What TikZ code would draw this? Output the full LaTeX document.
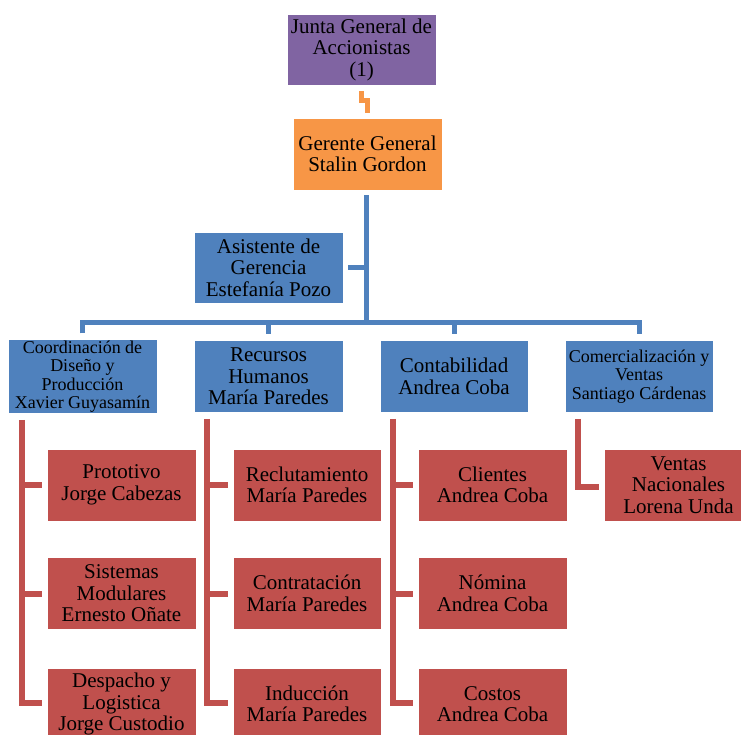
\documentclass[tikz,border=0pt]{standalone}
\usepackage{fontspec}
\setmainfont{Liberation Serif}
\usetikzlibrary{calc}
\definecolor{cpurple}{HTML}{8064A2}
\definecolor{corange}{HTML}{F79646}
\definecolor{cblue}{HTML}{4F81BD}
\definecolor{cred}{HTML}{C0504D}
\tikzset{
  box/.style={rectangle, draw=white, line width=0.6pt, minimum width=149pt,
    minimum height=72pt, inner sep=1pt, align=center, text=black,
    font=\fontsize{21}{21.5}\selectfont},
  smalltext/.style={font=\fontsize{18}{18.5}\selectfont},
  purplebox/.style={box, fill=cpurple},
  orangebox/.style={box, fill=corange},
  bluebox/.style={box, fill=cblue},
  redbox/.style={box, fill=cred},
  oline/.style={draw=corange, line width=4.5pt},
  bline/.style={draw=cblue, line width=5pt},
  rline/.style={draw=cred, line width=6pt},
}
\begin{document}
\begin{tikzpicture}[x=1pt, y=-1pt]
\useasboundingbox (0,0) rectangle (741,735);
\clip (0,0) rectangle (741,735);
\fill[white] (0,0) rectangle (741,735);

% top of the chart
\node[purplebox, minimum height=71pt] (junta) at (361.5,49.5) {Junta General de\\Accionistas\\(1)};
\node[orangebox] (gerente) at (367.5,154) {Gerente General\\Stalin Gordon};
\node[bluebox, minimum height=71pt] (asist) at (268.5,267.5) {Asistente de\\Gerencia\\Estefanía Pozo};

% departments
\node[bluebox, smalltext] (coord) at (82.5,376.5) {Coordinación de\\Diseño y\\Producción\\Xavier Guyasamín};
\node[bluebox] (rrhh) at (268.5,376.5) {Recursos\\Humanos\\María Paredes};
\node[bluebox, minimum width=148pt] (conta) at (454,376.5) {Contabilidad\\Andrea Coba};
\node[bluebox, smalltext, minimum width=148pt] (comer) at (639,376.5) {Comercialización y\\Ventas\\Santiago Cárdenas};

% units under each department
\node[redbox] (p1) at (121.5,485) {Prototivo\\Jorge Cabezas};
\node[redbox] (p2) at (121.5,593.5) {Sistemas\\Modulares\\Ernesto Oñate};
\node[redbox] (p3) at (121.5,704) {Despacho y\\Logistica\\Jorge Custodio};

\node[redbox, minimum width=148pt] (r1) at (307,485) {Reclutamiento\\María Paredes};
\node[redbox, minimum width=148pt] (r2) at (307,593.5) {Contratación\\María Paredes};
\node[redbox, minimum width=148pt] (r3) at (307,704) {Inducción\\María Paredes};

\node[redbox] (c1) at (492.5,485) {Clientes\\Andrea Coba};
\node[redbox] (c2) at (492.5,593.5) {Nómina\\Andrea Coba};
\node[redbox] (c3) at (492.5,704) {Costos\\Andrea Coba};

\node[redbox] (v1) at (678.5,485) {Ventas\\Nacionales\\Lorena Unda};

% junta to gerente
\draw[oline] ($(junta.south)+(0,6)$) -- ++(0,9) -| ($(gerente.north)+(0,-5)$);

% gerente trunk and department bus
\coordinate (bus) at (366,322);
\draw[bline] ($(gerente.south)+(-1.5,5)$) -- (bus);
\draw[bline] ($(asist.east)+(5,0)$) -- (asist.east -| bus);
\draw[bline] ($(coord.north)+(0,-6)$) |- (bus -| comer.north) -- ($(comer.north)+(0,-6)$);
\draw[bline] (bus -| rrhh.north) -- ($(rrhh.north)+(0,-6)$);
\draw[bline] (bus -| conta.north) -- ($(conta.north)+(0,-6)$);

% branch roots below each department
\coordinate (kp) at ($(coord.south west)+(14,6)$);
\coordinate (kr) at ($(rrhh.south west)+(13,6)$);
\coordinate (kc) at ($(conta.south west)+(13,6)$);
\coordinate (kv) at ($(comer.south west)+(13,6)$);

% department branches
\draw[rline] (kp) |- ($(p3.west)+(-5,-1)$);
\draw[rline] (kp |- p1.west) -- ($(p1.west)+(-5,0)$);
\draw[rline] (kp |- p2.west) -- ($(p2.west)+(-5,0)$);

\draw[rline] (kr) |- ($(r3.west)+(-5,-1)$);
\draw[rline] (kr |- r1.west) -- ($(r1.west)+(-5,0)$);
\draw[rline] (kr |- r2.west) -- ($(r2.west)+(-5,0)$);

\draw[rline] (kc) |- ($(c3.west)+(-5,-1)$);
\draw[rline] (kc |- c1.west) -- ($(c1.west)+(-5,0)$);
\draw[rline] (kc |- c2.west) -- ($(c2.west)+(-5,0)$);

\draw[rline] (kv) |- ($(v1.west)+(-5,2)$);
\end{tikzpicture}
\end{document}
